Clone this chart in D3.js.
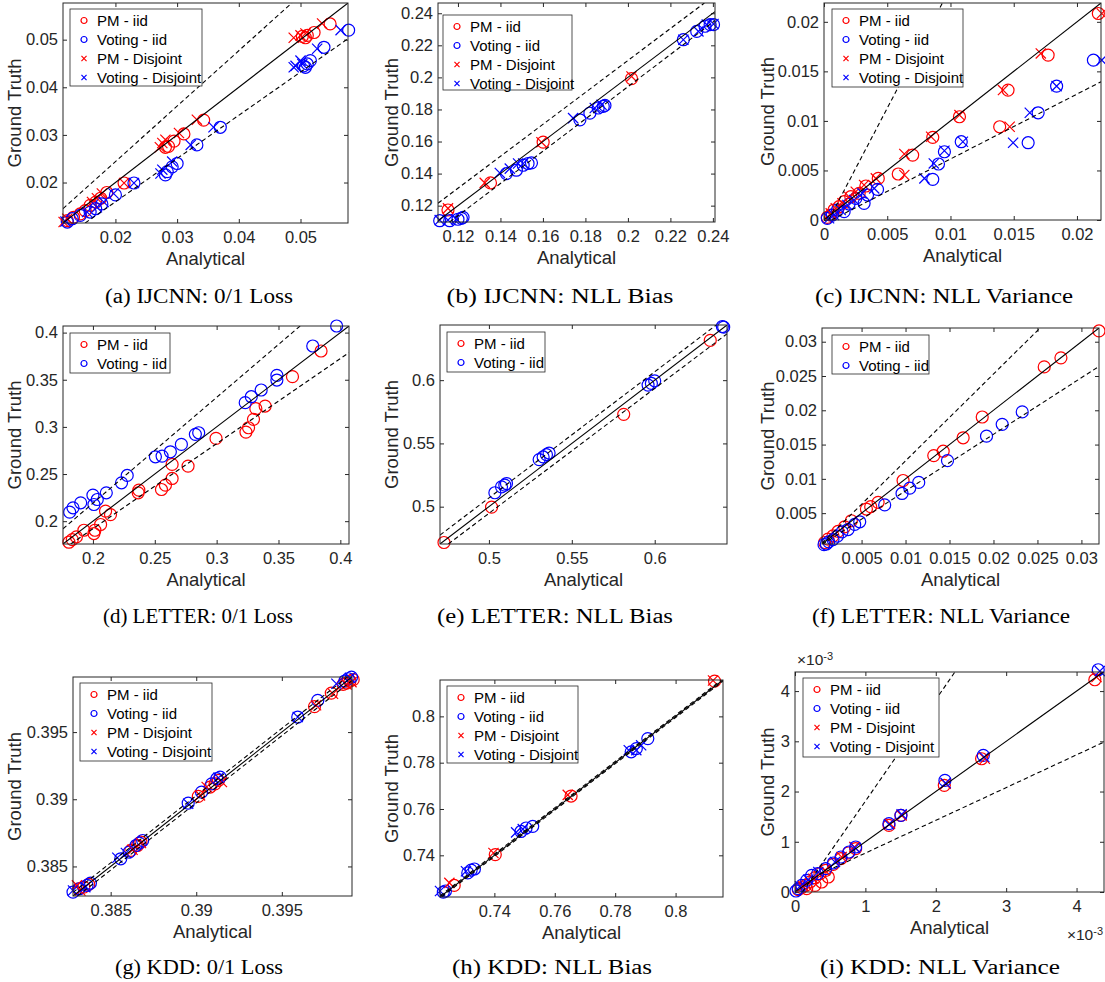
<!DOCTYPE html>
<html>
<head>
<meta charset="utf-8">
<script src="https://cdn.jsdelivr.net/npm/d3@7"></script>
<style>
  body { margin: 0; background: #fff; }
  svg { display: block; }
</style>
</head>
<body>
<div id="chart"></div>
<script>
// ---------- data: [analytical, ground truth] pairs ----------

// (a) IJCNN: 0/1 Loss
const a_domain = [0.0115, 0.0577];
const a_ticks = [0.02, 0.03, 0.04, 0.05];
const a_pmIid = [[0.0548,0.0533],[0.0522,0.0515],[0.0511,0.0509],[0.0508,0.0504],[0.0503,0.0507],
  [0.0343,0.0331],[0.0311,0.0302],[0.0295,0.0287],[0.0286,0.0276],[0.0281,0.0274],
  [0.0214,0.0199],[0.0186,0.0179],[0.0176,0.0167],[0.0168,0.0159],[0.0159,0.0152],[0.0151,0.0141],[0.0143,0.0134],[0.0132,0.0127],[0.0122,0.0120]];
const a_votIid = [[0.0578,0.0520],[0.0538,0.0484],[0.0516,0.0456],[0.0511,0.0449],[0.0508,0.0442],[0.0505,0.0445],
  [0.0370,0.0316],[0.0332,0.0279],[0.0300,0.0240],[0.0292,0.0233],[0.0284,0.0223],[0.0281,0.0216],
  [0.0230,0.0199],[0.0200,0.0174],[0.0178,0.0155],[0.0168,0.0145],[0.0159,0.0138],[0.0143,0.0131],[0.0130,0.0124],[0.0122,0.0117]];
const a_pmDis = [[0.0535,0.0534],[0.0500,0.0509],[0.0489,0.0504],[0.0508,0.0513],
  [0.0332,0.0332],[0.0303,0.0304],[0.0276,0.0283],[0.0281,0.0290],[0.0272,0.0274],
  [0.0214,0.0199],[0.0178,0.0177],[0.0170,0.0167],[0.0162,0.0159],[0.0122,0.0124],[0.0116,0.0117]];
const a_votDis = [[0.0565,0.0520],[0.0527,0.0481],[0.0500,0.0456],[0.0492,0.0445],[0.0489,0.0442],[0.0503,0.0449],
  [0.0359,0.0316],[0.0322,0.0279],[0.0292,0.0244],[0.0276,0.0227],[0.0273,0.0219],
  [0.0230,0.0199],[0.0197,0.0177],[0.0181,0.0159],[0.0170,0.0148],[0.0154,0.0138],[0.0119,0.0118]];
const a_solid = [[0.0115,0.0115],[0.0577,0.0577]];
const a_upper = [[0.0115,0.0145],[0.0486,0.0577]];
const a_lower = [[0.0151,0.0115],[0.0577,0.0502]];

// (b) IJCNN: NLL Bias
const b_xDomain = [0.1106, 0.241];
const b_yDomain = [0.1098, 0.2464];
const b_ticks = [0.12, 0.14, 0.16, 0.18, 0.2, 0.22, 0.24];
const b_pmIid = [[0.1153,0.1173],[0.1353,0.1342],[0.1601,0.1596],[0.2017,0.1992]];
const b_votIid = [[0.1114,0.1106],[0.1161,0.1106],[0.1200,0.1115],[0.1216,0.1121],[0.1224,0.1127],
  [0.1428,0.1400],[0.1475,0.1421],[0.1507,0.1452],[0.1530,0.1463],[0.1546,0.1467],
  [0.1774,0.1735],[0.1821,0.1777],[0.1860,0.1809],[0.1884,0.1819],[0.1892,0.1825],
  [0.2261,0.2235],[0.2324,0.2287],[0.2363,0.2319],[0.2387,0.2329],[0.2403,0.2329]];
const b_pmDis = [[0.1153,0.1183],[0.1326,0.1342],[0.1593,0.1596],[0.2017,0.2006]];
const b_votDis = [[0.1114,0.1110],[0.1153,0.1110],[0.1192,0.1115],
  [0.1397,0.1404],[0.1444,0.1431],[0.1483,0.1463],[0.1507,0.1463],
  [0.1742,0.1746],[0.1844,0.1809],[0.1876,0.1829],
  [0.2261,0.2235],[0.2332,0.2287],[0.2371,0.2329],[0.2403,0.2333]];
const b_solid = [[0.1106,0.1106],[0.241,0.241]];
const b_upper = [[0.1106,0.1215],[0.2360,0.2464]];
const b_lower = [[0.1161,0.1098],[0.241,0.2354]];

// (c) IJCNN: NLL Variance
const c_domain = [0, 0.0219];
const c_ticks = [0, 0.005, 0.01, 0.015, 0.02];
const c_pmIid = [[0.02169,0.02084],[0.01772,0.01664],[0.01455,0.01311],[0.01389,0.00941],[0.01071,0.01042],[0.0086,0.00834],
  [0.00701,0.00655],[0.00587,0.00464],[0.00429,0.0042],[0.00331,0.00343],[0.00278,0.00269],[0.00212,0.00235],
  [0.00159,0.00185],[0.00119,0.00134],[0.00079,0.00101],[0.00053,0.0005],[0.00026,0.00027]];
const c_votIid = [[0.0213,0.01613],[0.01839,0.01351],[0.01693,0.01082],[0.01614,0.0078],[0.01085,0.0079],[0.00952,0.00689],
  [0.00905,0.00565],[0.0086,0.0041],[0.00423,0.00309],[0.00344,0.00252],[0.00317,0.00168],[0.00251,0.00218],
  [0.00198,0.00161],[0.00159,0.00084],[0.00106,0.00101],[0.00066,0.0005],[0.00026,0.00017]];
const c_pmDis = [[0.02196,0.02084],[0.01714,0.01681],[0.01415,0.01311],[0.01468,0.00941],[0.01071,0.01059],[0.00847,0.0084],
  [0.00635,0.00666],[0.00635,0.00454],[0.0041,0.0042],[0.00317,0.00353],[0.00251,0.00286],[0.00198,0.00235],
  [0.00146,0.00168],[0.00093,0.00118],[0.00053,0.00067]];
const c_votDis = [[0.02196,0.01613],[0.01839,0.01351],[0.01627,0.01082],[0.01495,0.0078],[0.01098,0.0079],[0.00952,0.00699],
  [0.00868,0.00571],[0.00794,0.0042],[0.00397,0.00319],[0.00304,0.00269],[0.00238,0.00202],[0.00185,0.00151],
  [0.00132,0.00101],[0.00079,0.0005],[0.0004,0.00017]];
const c_solid = [[0,0],[0.0219,0.0219]];
const c_upper = [[0.000365,0],[0.00936,0.0219]];
const c_lower = [[0.0006,0],[0.0219,0.01395]];

// (d) LETTER: 0/1 Loss
const d_domain = [0.1758, 0.407];
const d_ticks = [0.2, 0.25, 0.3, 0.35, 0.4];
const d_pmIid = [[0.3844,0.3805],[0.3613,0.3533],[0.3392,0.3221],[0.3317,0.3193],[0.3298,0.308],[0.3258,0.2991],
  [0.3237,0.2945],[0.2995,0.2878],[0.2769,0.2584],[0.264,0.2602],[0.264,0.2453],[0.2586,0.2382],[0.2554,0.2336],
  [0.2371,0.2329],[0.2366,0.2301],[0.2142,0.207],[0.2102,0.2106],[0.2062,0.1965],[0.2016,0.1904],[0.2008,0.1869],
  [0.1927,0.1904],[0.1866,0.1833],[0.1833,0.1805],[0.1806,0.1777]];
const d_votIid = [[0.397,0.407],[0.3777,0.3858],[0.3487,0.3547],[0.3487,0.3497],[0.336,0.3391],[0.328,0.332],
  [0.3231,0.3257],[0.2855,0.2938],[0.2828,0.2921],[0.2715,0.2814],[0.2626,0.2736],[0.2559,0.269],[0.2505,0.2683],
  [0.2277,0.2485],[0.2231,0.2407],[0.2108,0.2301],[0.2035,0.223],[0.2,0.2276],[0.2008,0.2177],[0.1901,0.2195],
  [0.1839,0.2142],[0.1812,0.2096]];
const d_solid = [[0.1758,0.1758],[0.407,0.407]];
const d_upper = [[0.1758,0.1919],[0.3675,0.407]];
const d_lower = [[0.182,0.1758],[0.407,0.3788]];

// (e) LETTER: NLL Bias
const e_domain = [0.4705, 0.6436];
const e_ticks = [0.5, 0.55, 0.6];
const e_pmIid = [[0.4729,0.4717],[0.5016,0.4997],[0.5813,0.573],[0.6335,0.6314]];
const e_votIid = [[0.6408,0.6424],[0.6416,0.6419],[0.6,0.5995],[0.598,0.5974],[0.596,0.5961],[0.5363,0.5424],
  [0.5347,0.5411],[0.5327,0.5393],[0.5303,0.5372],[0.5106,0.5183],[0.5096,0.517],[0.5076,0.5157],[0.5036,0.511]];
const e_solid = [[0.4705,0.4705],[0.6436,0.6436]];
const e_upper = [[0.4705,0.4775],[0.6371,0.6436]];
const e_lower = [[0.4755,0.4705],[0.6436,0.6366]];

// (f) LETTER: NLL Variance
const f_domain = [0.0005, 0.032];
const f_ticks = [0.005, 0.01, 0.015, 0.02, 0.025, 0.03];
const f_pmIid = [[0.032,0.03157],[0.02767,0.02765],[0.02577,0.02633],[0.01872,0.01902],[0.01655,0.01599],[0.01428,0.01403],
  [0.01321,0.01339],[0.00972,0.00976],[0.00688,0.00658],[0.00604,0.00594],[0.00555,0.0056],[0.00384,0.00389],
  [0.00308,0.00301],[0.00232,0.00233],[0.00175,0.00169],[0.00118,0.00121],[0.0008,0.00072]];
const f_votIid = [[0.02327,0.01976],[0.02099,0.01795],[0.01921,0.01623],[0.01477,0.01266],[0.0115,0.00948],[0.01048,0.00865],
  [0.0096,0.00787],[0.00763,0.0062],[0.00479,0.00374],[0.00422,0.00335],[0.00346,0.00261],[0.00278,0.00227],
  [0.00225,0.00164],[0.00175,0.00115],[0.00126,0.00081],[0.00099,0.0005],[0.00073,0.0004]];
const f_solid = [[0.0005,0.0005],[0.032,0.032]];
const f_upper = [[0.0005,0.0006],[0.0253,0.032]];
const f_lower = [[0.0005,0.0004],[0.032,0.0264]];

// (g) KDD: 0/1 Loss
const g_domain = [0.3828, 0.3991];
const g_ticks = [0.385, 0.39, 0.395];
const g_pmIid = [[0.39917,0.3989],[0.39898,0.3988],[0.39878,0.39865],[0.39858,0.39855],[0.39789,0.3979],[0.39691,0.3969],
  [0.39012,0.39021],[0.39081,0.39091],[0.3911,0.39115],[0.3913,0.3914],[0.38618,0.3862],[0.38657,0.38656],
  [0.38677,0.38681],[0.38313,0.38334],[0.38343,0.38346],[0.38372,0.38366]];
const g_votIid = [[0.39907,0.39909],[0.39888,0.39897],[0.39868,0.3988],[0.3971,0.39736],[0.39593,0.39612],[0.38953,0.38971],
  [0.39031,0.39053],[0.3909,0.39115],[0.3912,0.39153],[0.3914,0.39165],[0.38559,0.38557],[0.38608,0.38607],
  [0.38648,0.38656],[0.38667,0.38674],[0.38687,0.38693],[0.3828,0.38309],[0.38317,0.38334],[0.38362,0.38359],[0.38382,0.38376]];
const g_pmDis = [[0.39907,0.39872],[0.39878,0.39855],[0.39799,0.39785],[0.397,0.39699],[0.39061,0.39091],[0.3915,0.39128],
  [0.39022,0.39029],[0.38628,0.38624],[0.38677,0.38674],[0.38303,0.38359],[0.38323,0.38321]];
const g_votDis = [[0.39898,0.39904],[0.39819,0.3986],[0.39593,0.39612],[0.38953,0.38967],[0.3913,0.3916],
  [0.38539,0.38565],[0.38589,0.386],[0.3828,0.38321],[0.38352,0.38346]];
const g_solid = [[0.3828,0.3828],[0.3991,0.3991]];
const g_upper = [[0.3828,0.38307],[0.39883,0.3991]];
const g_lower = [[0.38307,0.3828],[0.3991,0.39883]];

// (h) KDD: NLL Bias
const h_domain = [0.722, 0.8157];
const h_ticks = [0.74, 0.76, 0.78, 0.8];
const h_pmIid = [[0.8129,0.8152],[0.7654,0.7656],[0.7403,0.7403],[0.7267,0.727]];
const h_votIid = [[0.7231,0.7241],[0.7238,0.7246],[0.7312,0.7324],[0.7323,0.7336],[0.7334,0.7341],[0.7488,0.7503],
  [0.7505,0.7518],[0.7527,0.7525],[0.7853,0.7847],[0.787,0.7861],[0.7908,0.7904]];
const h_pmDis = [[0.8124,0.8155],[0.7643,0.7661],[0.7397,0.741],[0.7251,0.7281]];
const h_votDis = [[0.722,0.7246],[0.7306,0.7331],[0.7472,0.7499],[0.7494,0.7513],[0.7845,0.7854],[0.7886,0.7875],[0.787,0.7854]];
const h_solid = [[0.722,0.722],[0.8157,0.8157]];
const h_upper = [[0.722,0.7225],[0.8152,0.8157]];
const h_lower = [[0.7225,0.722],[0.8157,0.8152]];

// (i) KDD: NLL Variance  (values in units of 1e-3)
const i_xDomain = [0, 4.39];
const i_yDomain = [0, 4.38];
const i_ticks = [0, 1, 2, 3, 4];
const i_pmIid = [[4.26,4.226],[2.651,2.653],[2.121,2.123],[1.335,1.327],[1.505,1.526],[0.862,0.862],[0.757,0.776],
  [0.653,0.663],[0.544,0.551],[0.436,0.431],[0.355,0.365],[0.284,0.285],[0.213,0.199],[0.151,0.133],[0.095,0.086],
  [0.047,0.046],[0.166,0.066],[0.284,0.133],[0.379,0.199],[0.473,0.299]];
const i_votIid = [[4.308,4.425],[2.675,2.72],[2.13,2.222],[1.335,1.36],[1.505,1.526],[0.862,0.896],[0.767,0.796],
  [0.653,0.697],[0.544,0.577],[0.436,0.464],[0.322,0.365],[0.237,0.332],[0.166,0.232],[0.095,0.133],[0.047,0.066],[0.014,0.02]];
const i_pmDis = [[4.284,4.279],[2.698,2.653],[2.14,2.156],[1.349,1.36],[1.515,1.526],[0.843,0.896],[0.663,0.697],
  [0.426,0.431],[0.26,0.265],[0.118,0.113]];
const i_votDis = [[4.331,4.398],[2.689,2.687],[2.14,2.169],[1.335,1.347],[1.515,1.546],[0.852,0.882],[0.568,0.597],
  [0.331,0.398],[0.189,0.245],[0.071,0.113]];
const i_solid = [[0,0],[4.38,4.38]];
const i_upper = [[0.106,0],[2.272,4.38]];
const i_lower = [[0.352,0.352],[4.39,2.985]];

// ---------- layout ----------
const w = 1105;
const h = 982;
const sansFont = "'Liberation Sans', Arial, Helvetica, sans-serif";
const serifFont = "'Liberation Serif', 'Times New Roman', serif";
const axisColor = "#262626";

const seriesStyle = {
  pmIid: { name: "PM - iid", color: "#ff0000", shape: "circle" },
  votIid: { name: "Voting - iid", color: "#0000ff", shape: "circle" },
  pmDis: { name: "PM - Disjoint", color: "#ff0000", shape: "cross" },
  votDis: { name: "Voting - Disjoint", color: "#0000ff", shape: "cross" }
};

// box = [left, top, right, bottom], legend = [x, y, width, height], cap = [centre x, baseline, width]
const panels = [
  { box: [63, 3, 348, 223], xDomain: a_domain, yDomain: a_domain, xTicks: a_ticks, yTicks: a_ticks,
    series: { pmIid: a_pmIid, votIid: a_votIid, pmDis: a_pmDis, votDis: a_votDis },
    guides: [a_solid, a_upper, a_lower], legend: [70, 9, 132, 77], yLabelX: 15,
    caption: "(a) IJCNN: 0/1 Loss", cap: [199, 303, 188] },
  { box: [438, 3, 715, 222], xDomain: b_xDomain, yDomain: b_yDomain, xTicks: b_ticks, yTicks: b_ticks,
    series: { pmIid: b_pmIid, votIid: b_votIid, pmDis: b_pmDis, votDis: b_votDis },
    guides: [b_solid, b_upper, b_lower], legend: [443, 15, 129, 75], yLabelX: 392,
    caption: "(b) IJCNN: NLL Bias", cap: [560, 303, 227] },
  { box: [824, 3, 1101, 220], xDomain: c_domain, yDomain: c_domain, xTicks: c_ticks, yTicks: c_ticks,
    series: { pmIid: c_pmIid, votIid: c_votIid, pmDis: c_pmDis, votDis: c_votDis },
    guides: [c_solid, c_upper, c_lower], legend: [832, 9, 131, 78], yLabelX: 768,
    caption: "(c) IJCNN: NLL Variance", cap: [944, 303, 258] },
  { box: [63, 326, 349, 544], xDomain: d_domain, yDomain: d_domain, xTicks: d_ticks, yTicks: d_ticks,
    series: { pmIid: d_pmIid, votIid: d_votIid },
    guides: [d_solid, d_upper, d_lower], legend: [70, 333, 100, 40], yLabelX: 15,
    caption: "(d) LETTER: 0/1 Loss", cap: [198, 623, 190] },
  { box: [440, 325, 727, 544], xDomain: e_domain, yDomain: e_domain, xTicks: e_ticks, yTicks: e_ticks,
    series: { pmIid: e_pmIid, votIid: e_votIid },
    guides: [e_solid, e_upper, e_lower], legend: [447, 332, 98, 40], yLabelX: 392,
    caption: "(e) LETTER: NLL Bias", cap: [555, 623, 236] },
  { box: [822, 328, 1099, 544], xDomain: f_domain, yDomain: f_domain, xTicks: f_ticks, yTicks: f_ticks,
    series: { pmIid: f_pmIid, votIid: f_votIid },
    guides: [f_solid, f_upper, f_lower], legend: [832, 335, 97, 39], yLabelX: 768,
    caption: "(f) LETTER: NLL Variance", cap: [941, 623, 258] },
  { box: [73, 677, 352, 896], xDomain: g_domain, yDomain: g_domain, xTicks: g_ticks, yTicks: g_ticks,
    series: { pmIid: g_pmIid, votIid: g_votIid, pmDis: g_pmDis, votDis: g_votDis },
    guides: [g_solid, g_upper, g_lower], legend: [80, 683, 132, 78], yLabelX: 15,
    caption: "(g) KDD: 0/1 Loss", cap: [199, 974, 168] },
  { box: [440, 680, 723, 897], xDomain: h_domain, yDomain: h_domain, xTicks: h_ticks, yTicks: h_ticks,
    series: { pmIid: h_pmIid, votIid: h_votIid, pmDis: h_pmDis, votDis: h_votDis },
    guides: [h_solid, h_upper, h_lower], legend: [447, 686, 131, 77], yLabelX: 392,
    caption: "(h) KDD: NLL Bias", cap: [552, 974, 200] },
  { box: [795, 672, 1104, 892], xDomain: i_xDomain, yDomain: i_yDomain, xTicks: i_ticks, yTicks: i_ticks,
    series: { pmIid: i_pmIid, votIid: i_votIid, pmDis: i_pmDis, votDis: i_votDis },
    guides: [i_solid, i_upper, i_lower], legend: [803, 678, 136, 79], yLabelX: 768, exponent: true,
    caption: "(i) KDD: NLL Variance", cap: [940, 974, 240] }
];

const svg = d3.select("#chart").append("svg").attr("width", w).attr("height", h);
const fmt = (v) => String(+v.toFixed(6));

panels.forEach((p, k) => drawPanel(p, k));

function drawMarker(sel, shape, color, size) {
  if (shape === "circle") {
    sel.append("circle").attr("r", size).attr("fill", "none")
      .attr("stroke", color).attr("stroke-width", 1.2);
  } else {
    const s = size * 0.85;
    sel.append("path").attr("d", `M${-s},${-s}L${s},${s}M${-s},${s}L${s},${-s}`)
      .attr("fill", "none").attr("stroke", color).attr("stroke-width", 1.2);
  }
}

function drawPanel(p, k) {
  const [l, t, r, b] = p.box;
  const x = d3.scaleLinear().domain(p.xDomain).range([l, r]);
  const y = d3.scaleLinear().domain(p.yDomain).range([b, t]);
  const g = svg.append("g");

  // clip for the reference lines
  svg.append("defs").append("clipPath").attr("id", "clip" + k)
    .append("rect").attr("x", l).attr("y", t).attr("width", r - l).attr("height", b - t);

  // axes, ticks pointing inward on all four sides
  g.append("g").attr("transform", `translate(0,${b})`)
    .call(d3.axisBottom(x).tickValues(p.xTicks).tickFormat(fmt).tickSizeInner(-4).tickSizeOuter(0).tickPadding(8));
  g.append("g").attr("transform", `translate(0,${t})`)
    .call(d3.axisTop(x).tickValues(p.xTicks).tickFormat("").tickSizeInner(-4).tickSizeOuter(0));
  g.append("g").attr("transform", `translate(${l},0)`)
    .call(d3.axisLeft(y).tickValues(p.yTicks).tickFormat(fmt).tickSizeInner(-4).tickSizeOuter(0).tickPadding(5));
  g.append("g").attr("transform", `translate(${r},0)`)
    .call(d3.axisRight(y).tickValues(p.yTicks).tickFormat("").tickSizeInner(-4).tickSizeOuter(0));
  g.selectAll(".domain").remove();
  g.selectAll(".tick line").attr("stroke", axisColor);
  g.selectAll(".tick text").attr("fill", axisColor)
    .style("font-family", sansFont).style("font-size", "16.5px");

  // scatter points
  Object.keys(p.series).forEach((key) => {
    const st = seriesStyle[key];
    g.append("g").selectAll("g").data(p.series[key]).join("g")
      .attr("transform", (d) => `translate(${x(d[0])},${y(d[1])})`)
      .each(function () { drawMarker(d3.select(this), st.shape, st.color, 6); });
  });

  // y = x line and the two dashed bounds
  const line = d3.line().x((d) => x(d[0])).y((d) => y(d[1]));
  p.guides.forEach((gd, i) => {
    g.append("path").datum(gd)
      .attr("clip-path", `url(#clip${k})`)
      .attr("fill", "none")
      .attr("stroke", "#000")
      .attr("stroke-width", 1.1)
      .attr("stroke-dasharray", i === 0 ? null : "4.5,3")
      .attr("d", line);
  });

  // frame
  g.append("rect").attr("x", l).attr("y", t).attr("width", r - l).attr("height", b - t)
    .attr("fill", "none").attr("stroke", axisColor).attr("stroke-width", 1);

  // legend
  const [lx, ly, lw, lh] = p.legend;
  const lg = g.append("g");
  lg.append("rect").attr("x", lx).attr("y", ly).attr("width", lw).attr("height", lh)
    .attr("fill", "#fff").attr("stroke", axisColor).attr("stroke-width", 0.8);
  Object.keys(p.series).forEach((key, i) => {
    const st = seriesStyle[key];
    const row = lg.append("g").attr("transform", `translate(${lx + 14},${ly + 11.5 + i * 19})`);
    drawMarker(row, st.shape, st.color, 3);
    row.append("text").attr("x", 13).attr("dy", "0.35em")
      .style("font-family", sansFont).style("font-size", "15px").attr("fill", "#000")
      .text(st.name);
  });

  // axis labels
  g.append("text").attr("x", (l + r) / 2).attr("y", b + 36).attr("dy", "0.35em")
    .attr("text-anchor", "middle").attr("fill", axisColor)
    .style("font-family", sansFont).style("font-size", "18.5px").text("Analytical");
  g.append("text").attr("transform", `translate(${p.yLabelX},${(t + b) / 2}) rotate(-90)`)
    .attr("dy", "0.35em").attr("text-anchor", "middle").attr("fill", axisColor)
    .style("font-family", sansFont).style("font-size", "18.5px").text("Ground Truth");

  // exponent labels for the 1e-3 axes
  if (p.exponent) {
    const ex = [[l + 2, t - 12, "start"], [w - 2, b + 43, "end"]];
    ex.forEach(([ex0, ey0, anchor]) => {
      const tx = g.append("text").attr("x", ex0).attr("y", ey0).attr("dy", "0.35em").attr("fill", axisColor)
        .attr("text-anchor", anchor)
        .style("font-family", sansFont).style("font-size", "15.5px");
      tx.append("tspan").text("\u00d710");
      tx.append("tspan").attr("dy", "-0.45em").style("font-size", "11px").text("-3");
    });
  }

  // caption
  g.append("text").attr("x", p.cap[0]).attr("y", p.cap[1]).attr("text-anchor", "middle")
    .attr("textLength", p.cap[2]).attr("lengthAdjust", "spacingAndGlyphs")
    .style("font-family", serifFont).style("font-size", "20px").attr("fill", "#000")
    .text(p.caption);
}
</script>
</body>
</html>
